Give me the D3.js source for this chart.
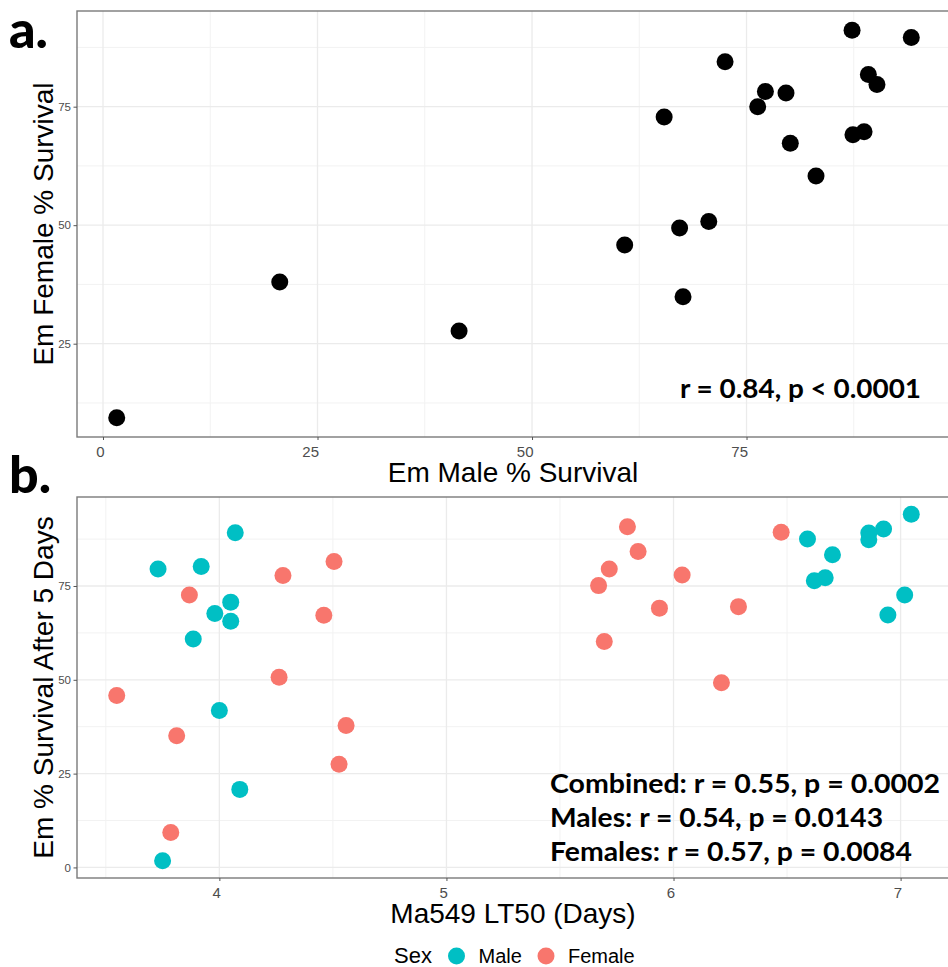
<!DOCTYPE html>
<html>
<head>
<meta charset="utf-8">
<script src="https://cdn.jsdelivr.net/npm/d3@7"></script>
<style>
  body { margin: 0; background: #fff; }
  svg { display: block; }
</style>
</head>
<body>
<div class="chart"></div>
<script>
const width = 948;
const height = 967;

                                        // DATA //
// panel a: emergence survival, male vs female (one point per line)
const maleSurv   = [1.6, 20.6, 41.5, 60.8, 67.2, 70.6, 67.6, 65.4, 72.5, 76.3,
                    77.2, 79.6, 80.1, 83.1, 87.3, 87.4, 88.7, 89.2, 90.2, 94.2];
const femaleSurv = [9.4, 38.0, 27.7, 45.8, 49.4, 50.8, 34.9, 72.8, 84.5, 75.0,
                    78.2, 77.9, 67.3, 60.4, 91.1, 69.1, 69.7, 81.8, 79.7, 89.6];
const aXTicks = [0, 25, 50, 75];
const aYTicks = [25, 50, 75];

// panel b: Ma549 LT50 vs survival after 5 days, by sex
const maleLT50    = [4.07, 3.73, 3.92, 4.05, 3.98, 4.05, 3.885, 4.0, 4.09, 3.75,
                     7.047, 6.925, 6.86, 6.86, 6.59, 6.70, 6.668, 6.62, 7.018, 6.944];
const maleDay5    = [89.2, 79.5, 80.2, 70.7, 67.7, 65.6, 60.9, 41.8, 20.8, 1.8,
                     94.1, 90.2, 89.1, 87.3, 87.5, 83.3, 77.2, 76.4, 72.6, 67.3];
const femaleLT50  = [4.505, 4.28, 3.868, 4.46, 4.263, 3.548, 4.558, 3.812, 4.527, 3.786,
                     5.797, 6.474, 5.844, 5.717, 6.038, 5.67, 5.938, 6.286, 5.695, 6.211];
const femaleDay5  = [81.5, 77.8, 72.6, 67.2, 50.7, 45.8, 37.8, 35.1, 27.5, 9.3,
                     90.8, 89.3, 84.2, 79.5, 77.9, 75.1, 69.1, 69.5, 60.2, 49.2];
const bXTicks = [4, 5, 6, 7];
const bYTicks = [0, 25, 50, 75];
const sexes = ["Male", "Female"];
const sexColors = ["#00BFC4", "#F8766D"];

const statsA = "r = 0.84, p < 0.0001";
const statsB = ["Combined: r = 0.55, p = 0.0002",
                "Males: r = 0.54, p = 0.0143",
                "Females: r = 0.57, p = 0.0084"];

const sansFont = "'Liberation Sans', Arial, Helvetica, sans-serif";
const boldFont = "Lato, 'Open Sans', sans-serif";

const svg = d3.select(".chart")
    .append("svg")
    .attr("width", width)
    .attr("height", height)
    .attr("viewBox", [0, 0, width, height]);

// ggplot-like 5% expansion of the data range
const expand = vals => {
    const [lo, hi] = d3.extent(vals);
    const pad = (hi - lo) * 0.05;
    return [lo - pad, hi + pad];
};

// minor gridlines half way between the major breaks
const minors = (ticks, domain) => {
    const step = ticks[1] - ticks[0];
    return d3.range(ticks[0] - step / 2, domain[1], step)
        .filter(v => v >= domain[0] && v <= domain[1]);
};

                                        // PANEL HELPER //
function drawPanel(p) {
    const x = d3.scaleLinear().domain(expand(p.xVals)).range([p.left, p.right]);
    const y = d3.scaleLinear().domain(expand(p.yVals)).range([p.bottom, p.top]);
    const g = svg.append("g");

    // grid
    const grid = g.append("g").attr("fill", "none");
    grid.selectAll(".vminor").data(minors(p.xTicks, x.domain())).join("line")
        .attr("x1", d => x(d)).attr("x2", d => x(d))
        .attr("y1", p.top).attr("y2", p.bottom)
        .attr("stroke", "#F2F2F2").attr("stroke-width", 1);
    grid.selectAll(".hminor").data(minors(p.yTicks, y.domain())).join("line")
        .attr("y1", d => y(d)).attr("y2", d => y(d))
        .attr("x1", p.left).attr("x2", p.right)
        .attr("stroke", "#F2F2F2").attr("stroke-width", 1);
    grid.selectAll(".vmajor").data(p.xTicks).join("line")
        .attr("x1", d => x(d)).attr("x2", d => x(d))
        .attr("y1", p.top).attr("y2", p.bottom)
        .attr("stroke", "#EBEBEB").attr("stroke-width", 1.3);
    grid.selectAll(".hmajor").data(p.yTicks).join("line")
        .attr("y1", d => y(d)).attr("y2", d => y(d))
        .attr("x1", p.left).attr("x2", p.right)
        .attr("stroke", "#EBEBEB").attr("stroke-width", 1.3);

    // points
    p.series.forEach(s => {
        g.append("g")
            .selectAll("circle")
            .data(d3.zip(s.xs, s.ys))
            .join("circle")
            .attr("cx", d => x(d[0]))
            .attr("cy", d => y(d[1]))
            .attr("r", 8.5)
            .attr("fill", s.color);
    });

    // border
    g.append("rect")
        .attr("x", p.left).attr("y", p.top)
        .attr("width", p.right - p.left).attr("height", p.bottom - p.top)
        .attr("fill", "none").attr("stroke", "#7a7a7a").attr("stroke-width", 1.4);

    // axes
    const xAxis = g.append("g")
        .attr("transform", `translate(0,${p.bottom})`)
        .call(d3.axisBottom(x).tickValues(p.xTicks).tickFormat(d3.format("~g"))
            .tickSize(3).tickPadding(6));
    xAxis.select(".domain").remove();
    xAxis.selectAll("line").attr("stroke", "#555");
    xAxis.selectAll("text")
        .attr("text-anchor", "end").attr("x", 1)
        .attr("fill", "#4D4D4D")
        .style("font", `15px ${sansFont}`);

    const yAxis = g.append("g")
        .attr("transform", `translate(${p.left},0)`)
        .call(d3.axisLeft(y).tickValues(p.yTicks).tickFormat(d3.format("~g"))
            .tickSize(3.5).tickPadding(2.5));
    yAxis.select(".domain").remove();
    yAxis.selectAll("line").attr("stroke", "#555");
    yAxis.selectAll("text")
        .attr("fill", "#4D4D4D")
        .style("font", `11.5px ${sansFont}`);

    // titles
    g.append("text")
        .attr("x", (p.left + 951) / 2 - 1).attr("y", p.bottom + 45)
        .attr("text-anchor", "middle")
        .style("font", `28px ${sansFont}`)
        .text(p.xTitle);
    g.append("text")
        .attr("transform", `translate(53,${(p.top + p.bottom) / 2}) rotate(-90)`)
        .attr("text-anchor", "middle")
        .style("font", `28px ${sansFont}`)
        .text(p.yTitle);

    // panel tag
    g.append("text")
        .attr("x", 9).attr("y", p.tagY)
        .style("font", `900 52px ${boldFont}`)
        .text(p.tag);

    return { x, y, g };
}

                                        // PANEL A //
const panelA = drawPanel({
    left: 77, right: 951, top: 11, bottom: 437,
    xVals: maleSurv, yVals: femaleSurv,
    xTicks: aXTicks, yTicks: aYTicks,
    series: [{ xs: maleSurv, ys: femaleSurv, color: "#000" }],
    xTitle: "Em Male % Survival",
    yTitle: "Em Female % Survival",
    tag: "a.", tagY: 48
});

panelA.g.append("text")
    .attr("x", 680).attr("y", 398)
    .attr("textLength", 241).attr("lengthAdjust", "spacingAndGlyphs")
    .style("font", `700 26px ${boldFont}`)
    .text(statsA);

                                        // PANEL B //
const panelB = drawPanel({
    left: 77, right: 951, top: 497, bottom: 878,
    xVals: maleLT50.concat(femaleLT50), yVals: maleDay5.concat(femaleDay5),
    xTicks: bXTicks, yTicks: bYTicks,
    series: [
        { xs: maleLT50, ys: maleDay5, color: sexColors[0] },
        { xs: femaleLT50, ys: femaleDay5, color: sexColors[1] }
    ],
    xTitle: "Ma549 LT50 (Days)",
    yTitle: "Em % Survival After 5 Days",
    tag: "b.", tagY: 493
});

const statWidths = [390, 333, 362];
panelB.g.selectAll(".stat")
    .data(statsB)
    .join("text")
    .attr("x", 550)
    .attr("y", (d, i) => 793 + i * 34)
    .attr("textLength", (d, i) => statWidths[i])
    .attr("lengthAdjust", "spacingAndGlyphs")
    .style("font", `700 26px ${boldFont}`)
    .text(d => d);

                                        // LEGEND //
const legend = svg.append("g");
legend.append("text")
    .attr("x", 394).attr("y", 963)
    .style("font", `22px ${sansFont}`)
    .text("Sex");
const itemX = [456.5, 546];
const item = legend.selectAll(".item")
    .data(sexes)
    .join("g")
    .attr("transform", (d, i) => `translate(${itemX[i]},956)`);
item.append("circle")
    .attr("r", 8.5)
    .attr("fill", (d, i) => sexColors[i]);
item.append("text")
    .attr("x", 22).attr("y", 7)
    .style("font", `20px ${sansFont}`)
    .text(d => d);
</script>
</body>
</html>
